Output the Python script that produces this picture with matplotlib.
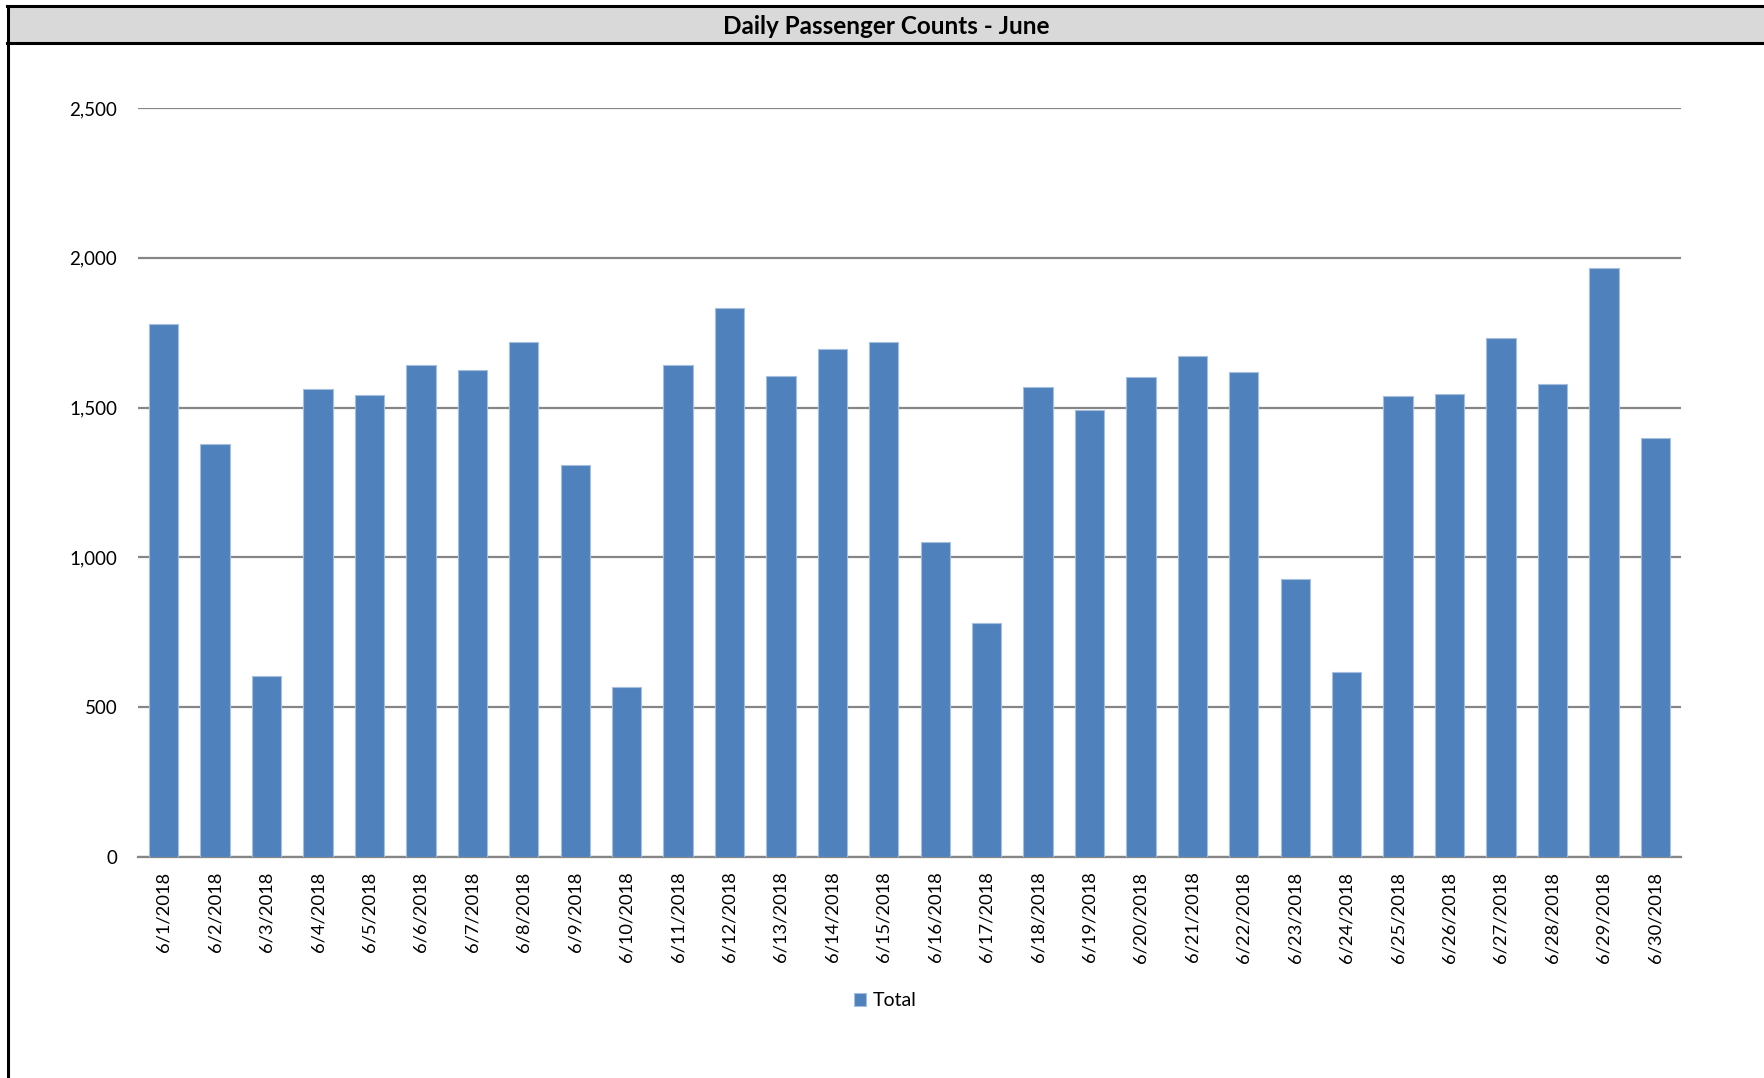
import matplotlib
matplotlib.use("Agg")
import matplotlib.pyplot as plt
from matplotlib.patches import Rectangle
from matplotlib.lines import Line2D

dates = [f"6/{d}/2018" for d in range(1, 31)]
totals = [1780, 1379, 603, 1563, 1542, 1642, 1626, 1719, 1310, 567,
          1642, 1832, 1606, 1696, 1719, 1052, 781, 1569, 1491, 1603,
          1673, 1620, 928, 619, 1540, 1546, 1732, 1579, 1967, 1399]
yticks = [0, 500, 1000, 1500, 2000, 2500]
series_name = "Total"
title = "Daily Passenger Counts - June"

W, H = 1764, 1078
plt.rcParams['font.family'] = ['Lato', 'DejaVu Sans']
fig = plt.figure(figsize=(W / 100, H / 100), dpi=100)

# title band
fig.patches.append(Rectangle((7 / W, 1 - 43 / H), 1 - 7 / W, 37 / H,
                             transform=fig.transFigure, facecolor='#D9D9D9',
                             edgecolor='none', zorder=0))
for yy in (6, 43):
    fig.lines.append(Line2D([7 / W, 1], [1 - yy / H, 1 - yy / H],
                            transform=fig.transFigure, color='black', lw=2.2))
fig.lines.append(Line2D([8 / W, 8 / W], [0, 1 - 6 / H],
                        transform=fig.transFigure, color='black', lw=2.2))
fig.text(886 / W, 1 - 27 / H, title, ha='center', va='center',
         fontsize=17.5, fontweight='bold', color='black')

ax = fig.add_axes([138 / W, 1 - 857 / H, (1681 - 138) / W, (857 - 108) / H])
x = list(range(len(dates)))
bars = ax.bar(x, totals, width=0.57, color='#4F81BD', edgecolor='#A7BFDE',
              linewidth=0.8, zorder=3, label=series_name)
ax.set_xlim(-0.5, len(dates) - 0.5)
ax.set_ylim(0, 2500)
ax.set_yticks(yticks)
ax.set_yticklabels([f"{v:,}" for v in yticks], fontsize=13.5)
ax.set_xticks(x)
ax.set_xticklabels(dates, rotation=90, fontsize=13.2)
ax.tick_params(axis='both', length=0, colors='black')
ax.tick_params(axis='y', pad=15)
ax.tick_params(axis='x', pad=10.5)
ax.grid(axis='y', color='#868686', lw=1.6, zorder=0)
for s in ('top', 'right', 'left'):
    ax.spines[s].set_visible(False)
ax.spines['bottom'].set_color('#868686')
ax.spines['bottom'].set_linewidth(1.6)

fig.legend(handles=[bars], labels=[series_name], loc='center',
           bbox_to_anchor=(885 / W, 1 - 1001 / H), frameon=False,
           fontsize=14, handlelength=0.65, handleheight=0.65,
           handletextpad=0.3)

fig.savefig("out.png", dpi=100, facecolor='white')
